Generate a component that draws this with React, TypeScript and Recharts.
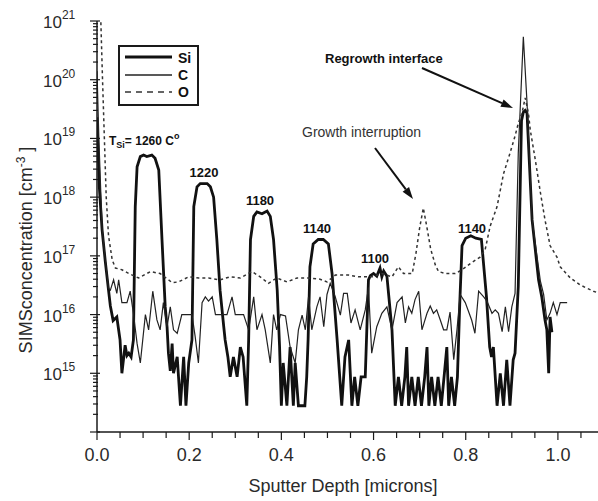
import React from "react";
import { LineChart, Line, XAxis, YAxis, Legend } from "recharts";

// SIMS depth profile: depth in microns, concentration in cm^-3
const siDepth = [
  0, 0.005, 0.011, 0.018, 0.025, 0.029, 0.035, 0.043, 0.05, 0.054,
  0.061, 0.065, 0.069, 0.074, 0.079, 0.083, 0.087, 0.094, 0.101, 0.108,
  0.119, 0.126, 0.134, 0.141, 0.148, 0.152, 0.155, 0.159, 0.163, 0.166,
  0.174, 0.181, 0.188, 0.193, 0.199, 0.206, 0.21, 0.217, 0.224, 0.239,
  0.246, 0.253, 0.26, 0.267, 0.275, 0.278, 0.284, 0.289, 0.296, 0.304,
  0.311, 0.317, 0.325, 0.329, 0.333, 0.34, 0.347, 0.358, 0.369, 0.376,
  0.383, 0.391, 0.396, 0.4, 0.404, 0.412, 0.419, 0.426, 0.43, 0.437,
  0.444, 0.451, 0.455, 0.458, 0.462, 0.469, 0.48, 0.491, 0.502, 0.51,
  0.521, 0.531, 0.538, 0.546, 0.553, 0.559, 0.566, 0.573, 0.582, 0.589,
  0.593, 0.6, 0.607, 0.614, 0.618, 0.622, 0.629, 0.64, 0.647, 0.654,
  0.661, 0.668, 0.672, 0.676, 0.683, 0.69, 0.697, 0.704, 0.711, 0.716,
  0.72, 0.726, 0.733, 0.74, 0.747, 0.753, 0.759, 0.763, 0.769, 0.776,
  0.782, 0.787, 0.792, 0.8, 0.811, 0.822, 0.834, 0.845, 0.852, 0.856,
  0.86, 0.868, 0.875, 0.882, 0.889, 0.896, 0.903, 0.907, 0.914, 0.921,
  0.925, 0.929, 0.933, 0.944, 0.958, 0.965, 0.972, 0.976, 0.98, 0.983,
  0.987,
];
const siConc = [
  2.3e19, 1.5e18, 2.8e17, 8e16, 2.6e16, 1.4e16, 7.9e15, 9.1e15, 3.7e15, 1e15,
  3e15, 2e15, 2.2e15, 1.9e15, 3.7e15, 6.9e17, 3.3e18, 4.9e18, 5.2e18, 4.9e18,
  5.2e18, 4.6e18, 2.9e18, 1.9e17, 1.35e16, 6.2e15, 2.2e15, 1.1e15, 3.2e15, 1e15,
  1.9e15, 2.8e14, 1.9e15, 2.8e14, 1.5e15, 3.7e15, 6.9e17, 1.5e18, 1.7e18, 1.7e18,
  1.5e18, 1e18, 1.9e17, 2.6e16, 6.2e15, 3.7e15, 1.9e15, 8.7e14, 1.9e15, 8.7e14,
  2.8e15, 1.9e15, 2.8e14, 3.7e15, 1.9e17, 4.7e17, 5.6e17, 5.2e17, 5.8e17, 4.7e17,
  1.9e17, 2.6e16, 3e15, 2.8e14, 1.5e15, 2.8e14, 2.8e15, 2.8e14, 1.5e15, 2.8e14,
  2.8e14, 2.8e14, 8.7e14, 3.7e15, 6.5e16, 1.6e17, 1.9e17, 1.9e17, 1.6e17, 5e16,
  3.7e15, 2.8e14, 1.9e15, 3.7e15, 2.8e14, 8.7e14, 2.8e14, 8.7e14, 8.7e14, 3.9e16,
  4.6e16, 5e16, 4.5e16, 6.2e16, 4.4e16, 5.5e16, 4.5e16, 5.5e15, 2.8e14, 8.7e14,
  2.8e14, 8.7e14, 2.8e15, 2.8e14, 8.7e14, 2.8e14, 8.7e14, 2.8e14, 8.7e14, 2.8e15,
  2.8e14, 8.7e14, 2.8e14, 8.7e14, 2.8e14, 8.7e14, 2.8e15, 2.8e14, 8.7e14, 2.8e14,
  8.7e14, 1.5e16, 1.5e17, 2e17, 2.2e17, 2e17, 1.9e17, 2e16, 2.8e15, 1.9e15,
  2.8e15, 2.8e14, 1e15, 2.8e14, 1.7e15, 2.8e14, 1.7e15, 2.2e15, 3e16, 2e19,
  2.8e19, 3e19, 2.7e19, 4.1e17, 3.9e16, 2e16, 8.1e15, 5.5e15, 1e15, 9.1e15,
  5e15,
];

const cDepth = [
  0, 0.004, 0.011, 0.018, 0.025, 0.029, 0.036, 0.043, 0.047, 0.054,
  0.065, 0.072, 0.079, 0.087, 0.094, 0.105, 0.112, 0.121, 0.13, 0.137,
  0.144, 0.152, 0.159, 0.166, 0.174, 0.184, 0.206, 0.213, 0.22, 0.228,
  0.235, 0.242, 0.25, 0.257, 0.267, 0.282, 0.293, 0.3, 0.318, 0.329,
  0.34, 0.347, 0.358, 0.365, 0.376, 0.383, 0.39, 0.398, 0.409, 0.419,
  0.43, 0.437, 0.445, 0.452, 0.459, 0.466, 0.477, 0.484, 0.492, 0.499,
  0.506, 0.517, 0.528, 0.535, 0.543, 0.551, 0.56, 0.571, 0.582, 0.589,
  0.596, 0.607, 0.618, 0.629, 0.64, 0.651, 0.662, 0.669, 0.676, 0.683,
  0.69, 0.698, 0.705, 0.716, 0.723, 0.73, 0.737, 0.745, 0.752, 0.759,
  0.766, 0.774, 0.781, 0.788, 0.799, 0.813, 0.82, 0.828, 0.839, 0.846,
  0.857, 0.864, 0.871, 0.879, 0.886, 0.893, 0.9, 0.907, 0.914, 0.925,
  0.933, 0.944, 0.962, 0.969, 0.976, 0.983, 0.99, 0.998, 1.005, 1.012,
  1.02,
];
const cConc = [
  1.4e20, 1e19, 3e17, 8.5e16, 2.8e16, 2.6e16, 3.9e16, 2.3e16, 3.9e16, 1.6e16,
  1.6e16, 2.5e16, 1.05e16, 3.2e15, 1.5e15, 1e16, 5.5e15, 2.5e16, 8.1e15, 5.5e15,
  1.6e16, 6.2e15, 1.35e16, 5.5e15, 4.8e15, 1e16, 1e16, 4.2e15, 1.5e15, 1.6e16,
  2e16, 1.7e16, 2e16, 1e16, 1e16, 1e16, 2e16, 1e16, 1e16, 5.5e15,
  2e16, 5.5e15, 1e16, 5.5e15, 1.5e15, 1e16, 5.5e15, 1e16, 9.5e15, 2.8e15,
  1.5e15, 5.5e15, 9.8e15, 5.5e15, 2e16, 5.5e15, 1.35e16, 2e16, 6.2e15, 2.2e16,
  3.4e16, 2e16, 9.8e15, 2.3e16, 2.3e16, 7.2e15, 1.2e16, 5.5e15, 1.2e16, 2.9e16,
  2.2e15, 6.2e15, 1.05e16, 1.35e16, 5.5e15, 1.6e16, 2e16, 7.2e15, 1.35e16, 1.05e16,
  1.8e16, 2.5e16, 5.5e15, 1.05e16, 1.4e16, 1.05e16, 1.2e16, 8e15, 5.5e15, 5.5e15,
  1.1e16, 1.7e15, 5.5e15, 2.2e16, 1.6e16, 8e15, 4.8e15, 2.5e16, 2e16, 1.7e16,
  1.05e16, 1.2e16, 1.05e16, 5.1e15, 1.35e16, 5.1e15, 1.35e16, 2.3e16, 5.6e18, 5.4e20,
  4e19, 4.1e17, 3.7e16, 2.2e16, 8.1e15, 1.05e16, 1.6e16, 1e16, 1.6e16, 1.6e16,
  1.6e16,
];

const oDepth = [
  0.008, 0.012, 0.016, 0.02, 0.025, 0.033, 0.04, 0.054, 0.069, 0.09,
  0.116, 0.137, 0.163, 0.177, 0.199, 0.221, 0.242, 0.267, 0.289, 0.311,
  0.336, 0.354, 0.372, 0.39, 0.412, 0.434, 0.459, 0.484, 0.499, 0.517,
  0.546, 0.568, 0.597, 0.618, 0.64, 0.654, 0.665, 0.684, 0.692, 0.7,
  0.708, 0.716, 0.724, 0.734, 0.741, 0.756, 0.777, 0.792, 0.81, 0.831,
  0.842, 0.853, 0.868, 0.882, 0.896, 0.907, 0.914, 0.922, 0.929, 0.936,
  0.94, 0.951, 0.962, 0.972, 0.983, 0.998, 1.005, 1.027, 1.048, 1.077,
  1.09,
];
const oConc = [
  1.2e21, 1e20, 1e19, 1e18, 2.2e17, 8.5e16, 6.2e16, 5.8e16, 5e16, 4.2e16,
  5.4e16, 5e16, 3.5e16, 3.6e16, 4.4e16, 4.2e16, 4.2e16, 3.9e16, 4.4e16, 4.2e16,
  5.4e16, 4.4e16, 3.4e16, 4.2e16, 3.6e16, 4.2e16, 4.2e16, 4e16, 3.6e16, 4.7e16,
  4.7e16, 4.4e16, 4.4e16, 5e16, 4.4e16, 6.5e16, 5e16, 5e16, 1.1e17, 3e17,
  6.5e17, 3e17, 1.3e17, 7e16, 5.4e16, 5e16, 5e16, 5.8e16, 7.4e16, 9.5e16,
  1.26e17, 3.2e17, 6.9e17, 2.5e18, 5.6e18, 1.1e19, 1.8e19, 2.7e19, 4.9e19, 2.7e19,
  1.4e19, 4.3e18, 1.2e18, 4.1e17, 1.5e17, 9.5e16, 6.5e16, 4.2e16, 3.2e16, 2.5e16,
  2.3e16,
];

const xTicks = [
  0, 0.05, 0.1, 0.15, 0.2, 0.25, 0.3, 0.35, 0.4, 0.45, 0.5, 0.55,
  0.6, 0.65, 0.7, 0.75, 0.8, 0.85, 0.9, 0.95, 1.0, 1.05, 1.1,
];
const decades = [14, 15, 16, 17, 18, 19, 20];
const mantissas = [1, 2, 3, 4, 5, 6, 7, 8, 9];
const yTicks = decades.flatMap((e) => mantissas.map((m) => m * Math.pow(10, e))).concat([1e21]);
const yMajorTicks = [1e14, 1e15, 1e16, 1e17, 1e18, 1e19, 1e20, 1e21];

const peakLabels = [
  { text: "1220", x: 204, y: 177 },
  { text: "1180", x: 260, y: 205 },
  { text: "1140", x: 317, y: 233 },
  { text: "1100", x: 375, y: 263 },
  { text: "1140", x: 472, y: 233 },
];

const siData = siDepth.map((d, i) => ({ d, v: siConc[i] }));
const cData = cDepth.map((d, i) => ({ d, v: cConc[i] }));
const oData = oDepth.map((d, i) => ({ d, v: oConc[i] }));

const FONT = "'Liberation Sans', Arial, sans-serif";
const AXIS = "#1a1a1a";
const TEXT = "#2a2a2a";

function splitLog(v: number) {
  const e = Math.floor(Math.log10(v) + 1e-9);
  const m = Math.round(v / Math.pow(10, e));
  return { e, m };
}

function LeftTick(props: any) {
  const { x, y, payload } = props;
  const { e, m } = splitLog(payload.value);
  const major = m === 1;
  return (
    <g>
      <line x1={x - (major ? 7 : 4)} x2={x + (major ? 3 : 1)} y1={y} y2={y} stroke={AXIS} strokeWidth={1.2} />
      {major && e >= 15 && (
        <text x={x - 54} y={y + 7} fontSize={17} fill={TEXT} fontFamily={FONT}>
          10
          <tspan dy={-9} fontSize={12}>
            {e}
          </tspan>
        </text>
      )}
    </g>
  );
}

function RightTick(props: any) {
  const { x, y } = props;
  return <line x1={x - 9} x2={x} y1={y} y2={y} stroke={AXIS} strokeWidth={1.2} />;
}

function isMajorX(v: number) {
  return Math.abs(v * 5 - Math.round(v * 5)) < 1e-6;
}

function BottomTick(props: any) {
  const { x, y, payload } = props;
  const v = payload.value;
  const major = isMajorX(v);
  return (
    <g>
      <line x1={x} x2={x} y1={y} y2={y + (major ? 8 : 6)} stroke={AXIS} strokeWidth={1.2} />
      {major && v < 1.05 && (
        <text x={x} y={y + 29} textAnchor="middle" fontSize={18} fill={TEXT} fontFamily={FONT}>
          {v.toFixed(1)}
        </text>
      )}
    </g>
  );
}

function TopTick(props: any) {
  const { x, y, payload } = props;
  const major = isMajorX(payload.value);
  return <line x1={x} x2={x} y1={y} y2={y + (major ? 8 : 5)} stroke={AXIS} strokeWidth={1.2} />;
}

function LegendBox() {
  return (
    <svg width={82} height={62} style={{ display: "block" }}>
      <rect x={1} y={1} width={79} height={59} fill="#fff" stroke={AXIS} strokeWidth={2} />
      <line x1={7} x2={54} y1={12} y2={12} stroke="#111" strokeWidth={2.8} />
      <text x={60} y={18} fontSize={14} fontWeight="bold" fill="#111" fontFamily={FONT}>Si</text>
      <line x1={7} x2={54} y1={30} y2={30} stroke="#222" strokeWidth={1.3} />
      <text x={60} y={35} fontSize={14} fontWeight="bold" fill="#111" fontFamily={FONT}>C</text>
      <line x1={7} x2={54} y1={47} y2={47} stroke="#333" strokeWidth={1.5} strokeDasharray="6 5" />
      <text x={60} y={52} fontSize={14} fontWeight="bold" fill="#111" fontFamily={FONT}>O</text>
    </svg>
  );
}

function Arrow({ x1, y1, x2, y2 }: { x1: number; y1: number; x2: number; y2: number }) {
  const len = Math.hypot(x2 - x1, y2 - y1);
  const ux = (x2 - x1) / len;
  const uy = (y2 - y1) / len;
  const hl = 12;
  const hw = 4;
  const bx = x2 - ux * hl;
  const by = y2 - uy * hl;
  const pts = `${x2},${y2} ${bx - uy * hw},${by + ux * hw} ${bx + uy * hw},${by - ux * hw}`;
  return (
    <g>
      <line x1={x1} y1={y1} x2={bx} y2={by} stroke="#111" strokeWidth={2} />
      <polygon points={pts} fill="#111" />
    </g>
  );
}

function Annotations() {
  return (
    <svg width={598} height={501} style={{ position: "absolute", left: 0, top: 0, pointerEvents: "none" }}>
      <g fontFamily={FONT}>
        <text x={109} y={145} fontSize={12} fontWeight="bold" fill="#111">
          T
          <tspan fontSize={9} dy={3}>Si</tspan>
          <tspan dy={-3}>= 1260 C</tspan>
          <tspan fontSize={9} dy={-6}>o</tspan>
        </text>
        {peakLabels.map((p, i) => (
          <text key={i} x={p.x} y={p.y} textAnchor="middle" fontSize={13} fontWeight="bold" fill="#111">
            {p.text}
          </text>
        ))}
        <text x={325} y={63} fontSize={13} fontWeight="bold" fill="#111">Regrowth interface</text>
        <text x={302} y={137} fontSize={14} fill="#333">Growth interruption</text>
        <Arrow x1={422} y1={68} x2={513} y2={108} />
        <Arrow x1={375} y1={148} x2={413} y2={199} />
        <text x={343} y={492} textAnchor="middle" fontSize={18} fill={TEXT}>Sputter Depth [microns]</text>
        <text x={32} y={250} textAnchor="middle" fontSize={18} fill={TEXT} transform="rotate(-90, 32, 250)">
          SIMSconcentration [cm
          <tspan dy={-7} fontSize={12}>-3</tspan>
          <tspan dy={7}> ]</tspan>
        </text>
      </g>
    </svg>
  );
}

export default function App() {
  return (
    <div style={{ position: "absolute", left: 0, top: 0, width: 598, height: 501, overflow: "hidden", background: "#fff" }}>
      <LineChart width={620} height={501} margin={{ top: 21, right: 16, bottom: 0, left: 0 }}>
        <XAxis
          dataKey="d"
          type="number"
          domain={[0, 1.1]}
          ticks={xTicks}
          interval={0}
          height={69}
          tickSize={0}
          tickMargin={0}
          tickLine={false}
          tick={BottomTick}
          axisLine={{ stroke: AXIS, strokeWidth: 1.5 }}
          allowDataOverflow
        />
        <XAxis
          xAxisId="top"
          orientation="top"
          dataKey="d"
          type="number"
          domain={[0, 1.1]}
          ticks={xTicks}
          interval={0}
          height={0}
          tickSize={0}
          tickMargin={0}
          tickLine={false}
          tick={TopTick}
          axisLine={{ stroke: AXIS, strokeWidth: 1.5 }}
          allowDataOverflow
        />
        <YAxis
          type="number"
          scale="log"
          domain={[1e14, 1e21]}
          ticks={yTicks}
          interval={0}
          width={97}
          tickSize={0}
          tickMargin={0}
          tickLine={false}
          tick={LeftTick}
          axisLine={{ stroke: AXIS, strokeWidth: 1.5 }}
          allowDataOverflow
        />
        <YAxis
          yAxisId="right"
          orientation="right"
          type="number"
          scale="log"
          domain={[1e14, 1e21]}
          ticks={yMajorTicks}
          interval={0}
          width={0}
          tickSize={0}
          tickMargin={0}
          tickLine={false}
          tick={RightTick}
          axisLine={false}
          allowDataOverflow
        />
        <Legend
          layout="horizontal"
          verticalAlign="middle"
          align="center"
          content={() => <LegendBox />}
          wrapperStyle={{ position: "absolute", left: 118, top: 45, width: 82, height: 62 }}
        />
        <Line data={siData} dataKey="v" name="Si" type="linear" stroke="#111" strokeWidth={2.8} dot={false} isAnimationActive={false} />
        <Line data={cData} dataKey="v" name="C" type="linear" stroke="#222" strokeWidth={1.2} dot={false} isAnimationActive={false} />
        <Line data={oData} dataKey="v" name="O" type="linear" stroke="#333" strokeWidth={1.5} strokeDasharray="3 3" dot={false} isAnimationActive={false} />
      </LineChart>
      <Annotations />
    </div>
  );
}
